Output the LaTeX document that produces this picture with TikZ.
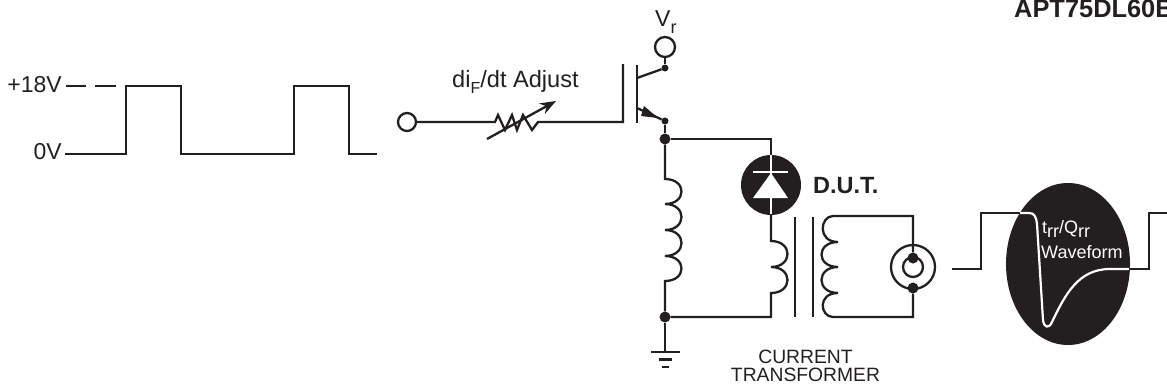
\documentclass[tikz,border=0pt]{standalone}
\usepackage{fontspec}
\setmainfont{Liberation Sans}
\usetikzlibrary{arrows.meta,shapes.geometric}
\definecolor{ink}{HTML}{231F20}
\newcommand{\fsz}[1]{\fontsize{#1}{#1}\selectfont}
\newcommand{\humpR}[2]{.. controls +(22,0) and +(22,0) .. (#1,#2)}
\tikzset{
  x=1pt,y=-1pt,
  wire/.style={draw=ink,line width=2.3pt,line join=miter},
  dot/.style={circle,fill=ink,inner sep=0pt,minimum size=#1},
  ring/.style={circle,draw=ink,line width=2.3pt,fill=white,inner sep=0pt,minimum size=#1},
  lbl/.style={text=ink,inner sep=0pt,font=\fsz{23}},
  ctl/.style={text=ink,inner sep=0pt,anchor=base,font=\fsz{19.3}},
  wlbl/.style={text=white,inner sep=0pt,anchor=base west,font=\fsz{18}},
  blbl/.style={text=ink,inner sep=0pt,anchor=base west,font=\fsz{23.5}\bfseries},
}
\begin{document}
\begin{tikzpicture}
\useasboundingbox (0,0) rectangle (1167,389);
% pulse
\node[lbl,anchor=base east] (hi) at (62,92.5) {+18V};
\node[lbl,anchor=base east] (lo) at (62,159) {0V};
\coordinate (d1a) at (66,86); \coordinate (d1b) at (86,86);
\coordinate (d2a) at (95,86); \coordinate (d2b) at (116,86);
\draw[wire] (d1a) -- (d1b);
\draw[wire] (d2a) -- (d2b);
\coordinate (ps) at (65,154); \coordinate (pe) at (377,154);
\draw[wire] (ps) -- (126,154) -- (126,86) -- (181,86) -- (181,154) -- (294,154) -- (294,86) -- (349,86) -- (349,154) -- (pe);
% gate
\node[ring=18pt] (in) at (407,122) {};
\coordinate (gate) at (623,122);
\draw[wire] (in) -- (495,122) -- (498,115) -- (505,130) -- (512,115) -- (517,130) -- (523,115) -- (532,130) -- (538,122) -- (gate) -- (623,64);
\node[lbl,anchor=base west,font=\fsz{23.6}] (adj) at (452,87) {di\raisebox{-6pt}{\fsz{16}F}/dt Adjust};
\coordinate (ra) at (487,139); \coordinate (rb) at (556,101);
\draw[wire,-{Stealth[length=16pt,width=12pt]}] (ra) -- (rb);
% transistor
\coordinate (bt) at (637,65); \coordinate (bb) at (637,123);
\draw[wire] (bt) -- (bb);
\node[dot=7pt] (cdot) at (665,68) {};
\node[dot=7pt] (edot) at (665,121) {};
\node[ring=20pt] (vr) at (665,47) {};
\draw[wire] (vr) -- (cdot);
\draw[wire] (637,78) -- (cdot);
\draw[wire] (637,108) -- (edot);
\fill[ink] (658,118) -- (644,106) -- (641,116) -- cycle;
\node[lbl,anchor=base west] (vrl) at (655,26) {V\raisebox{-7pt}{\fsz{18}r}};
\node[dot=11pt] (j1) at (665,139) {};
\draw[wire] (edot) -- (j1);
% left inductor
\node[dot=11pt] (j2) at (665,317) {};
\draw[wire] (j1) -- (665,179) \humpR{665}{204} \humpR{665}{230} \humpR{665}{256} \humpR{665}{281} -- (j2);
% diode
\coordinate (dtop) at (771,139);
\draw[wire] (j1) -- (dtop) -- (771,160);
\node[circle,fill=ink,inner sep=0pt,minimum size=60pt] (dut) at (771,185) {};
\fill[white] (771,173) -- (788,198) -- (753,198) -- cycle;
\draw[white,line width=2pt] (753,172) -- (788,172);
\draw[white,line width=1.8pt] (771,155) -- (771,215);
\node[blbl] (dutl) at (813,193) {D.U.T.};
% primary
\draw[wire] (771,214) -- (771,241) \humpR{771}{267} \humpR{771}{293} -- (771,317) -- (j2);
% core
\coordinate (c1a) at (795,217); \coordinate (c1b) at (795,317);
\coordinate (c2a) at (813,217); \coordinate (c2b) at (813,317);
\draw[wire] (c1a) -- (c1b);
\draw[wire] (c2a) -- (c2b);
% secondary
\node[circle,draw=ink,line width=2.3pt,inner sep=0pt,minimum size=44pt] (bnco) at (913,267) {};
\node[circle,draw=ink,line width=2.3pt,inner sep=0pt,minimum size=20pt] (bnci) at (913,267) {};
\node[dot=11pt] (bt1) at (913,258) {};
\node[dot=11pt] (bt2) at (913,288) {};
\draw[wire] (bt1) -- (913,216) -- (833,216) .. controls (820,216) and (817,242) .. (838,242)
  .. controls +(-22,0) and +(-22,0) .. (838,267)
  .. controls +(-22,0) and +(-22,0) .. (838,293)
  .. controls (817,293) and (820,317) .. (833,317) -- (913,317) -- (bt2);
% ground
\coordinate (g1a) at (651,352); \coordinate (g1b) at (680,352);
\coordinate (g2a) at (659,359.5); \coordinate (g2b) at (672,359.5);
\coordinate (g3a) at (662,367); \coordinate (g3b) at (669,367);
\draw[wire] (j2) -- (665,352);
\draw[wire] (g1a) -- (g1b);
\draw[wire] (g2a) -- (g2b);
\draw[wire] (g3a) -- (g3b);
\node[ctl] (ct1) at (805.5,363) {CURRENT};
\node[ctl] (ct2) at (805.5,381.5) {TRANSFORMER};
% waveform
\coordinate (wl) at (952,269);
\coordinate (wr) at (1167,213);
\draw[wire] (wl) -- (981,269) -- (981,213) -- (1022,213);
\draw[wire] (1125,269) -- (1149,269) -- (1149,213) -- (wr);
\node[ellipse,fill=ink,inner sep=0pt,minimum width=124pt,minimum height=162pt] (osc) at (1068,264) {};
\draw[white,line width=2.2pt,line join=round] (1020,213) -- (1029,213) .. controls (1034,213) and (1036,216) .. (1037,224)
  -- (1043,320) .. controls (1044,328) and (1049,329) .. (1052,322)
  .. controls (1065,295) and (1078,269) .. (1110,269) -- (1129,269);
\node[wlbl] (trr) at (1042,233) {t\raisebox{-4.5pt}{rr}/Q\raisebox{-4.5pt}{rr}};
\node[wlbl] (wav) at (1041,258) {Waveform};
% title
\node[blbl,font=\fsz{25.4}\bfseries] (title) at (1014,17) {APT75DL60B};
\end{tikzpicture}
\end{document}
